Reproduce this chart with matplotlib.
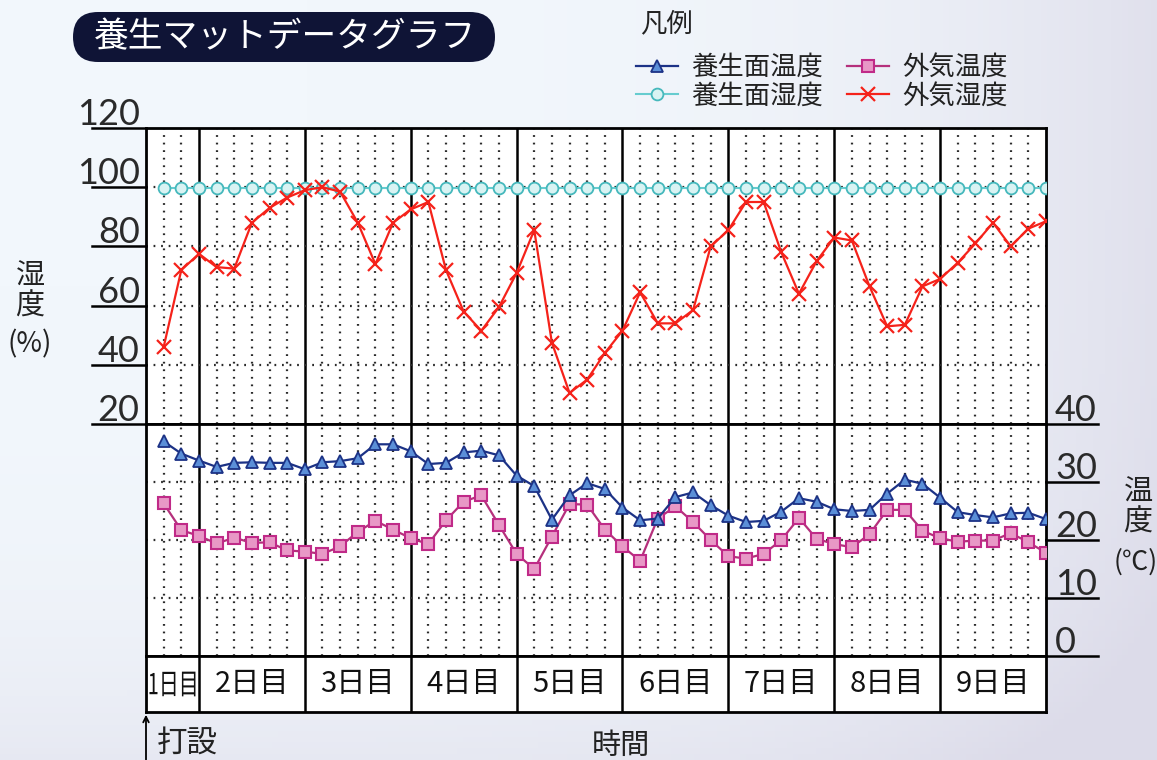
import matplotlib
matplotlib.use("Agg")
import matplotlib.pyplot as plt
import matplotlib.patches as mpatches
import matplotlib.transforms as mtransforms
from matplotlib.textpath import TextPath
from matplotlib.font_manager import FontProperties
import numpy as np

plt.rcParams['font.family'] = ['Noto Sans CJK JP', 'DejaVu Sans']

# readings every 4 hours; slot 0..51, day 1 is only half a day (3 slots)
slots = list(range(1, 52))
day_edges = [0, 3, 9, 15, 21, 27, 33, 39, 45, 51]
day_labels = ["1日目", "2日目", "3日目", "4日目", "5日目", "6日目", "7日目", "8日目", "9日目"]

# 外気湿度 (%)
outside_hum = [46, 72, 77.5, 73, 72.5, 88, 93, 96.5, 99, 100, 98.5, 88, 74, 88, 92.5, 95, 72,
               58, 51.5, 59.5, 71, 85.5, 47.5, 30.5, 35, 44, 51.5, 64.5, 54, 54, 58.5, 80, 85.5,
               95, 95, 78, 64, 75, 83, 82, 66.5, 53, 53.5, 66.5, 69, 74.5, 81, 88, 80, 86, 88.5]
# 養生面湿度 (%)
mat_hum = [99.7] * 51
# 養生面温度 (C)
mat_temp = [37.0, 34.9, 33.7, 32.6, 33.3, 33.4, 33.3, 33.3, 32.2, 33.4, 33.6, 34.1, 36.5, 36.5,
            35.3, 33.1, 33.3, 35.1, 35.4, 34.6, 31.1, 29.3, 23.5, 27.7, 29.8, 28.8, 25.6, 23.4,
            23.7, 27.4, 28.2, 26.0, 24.2, 23.1, 23.3, 24.9, 27.2, 26.6, 25.3, 25.0, 25.2, 28.0,
            30.4, 29.7, 27.3, 24.8, 24.3, 23.9, 24.6, 24.7, 23.6]
# 外気温度 (C)
outside_temp = [26.3, 21.7, 20.7, 19.4, 20.4, 19.5, 19.6, 18.2, 18.0, 17.6, 18.9, 21.4, 23.3,
                21.8, 20.3, 19.3, 23.4, 26.6, 27.7, 22.6, 17.6, 15.0, 20.6, 26.2, 26.1, 21.8,
                18.9, 16.4, 23.7, 25.8, 23.1, 20.0, 17.2, 16.8, 17.6, 20.0, 23.8, 20.2, 19.3,
                18.75, 21.0, 25.2, 25.2, 21.6, 20.3, 19.7, 19.9, 19.9, 21.2, 19.6, 17.8]

hum_ticks = [120, 100, 80, 60, 40, 20]
temp_ticks = [40, 30, 20, 10, 0]

DOT = (0, (0.8, 2.6))
NUM_FONT = dict(family=['Lato', 'DejaVu Sans'], fontweight='normal', fontsize=26, color='#2a2a2a')


def draw_grid(ax, hlines):
    "dotted grid at every reading, solid line at each day"
    minor = [s for s in range(1, 51) if s not in day_edges]
    ax.vlines(minor, 0, 1, transform=ax.get_xaxis_transform(), colors='#2a2a2a',
              linestyles=DOT, linewidth=1.6, zorder=1)
    ax.vlines(day_edges[1:-1], 0, 1, transform=ax.get_xaxis_transform(), colors='black',
              linewidth=1.8, zorder=1)
    ax.hlines(hlines, 0, 51, colors='#2a2a2a', linestyles=DOT, linewidth=1.6, zorder=1)
    ax.set_xlim(0, 51)
    ax.set_xticks([])
    ax.set_yticks([])
    for sp in ax.spines.values():
        sp.set_linewidth(2)
        sp.set_color('black')


def plot_mat_graph():
    fig = plt.figure(figsize=(11.57, 7.6), dpi=100)
    fig.patch.set_facecolor('#edf2f8')

    # soft background wash
    bg = fig.add_axes([0, 0, 1, 1], zorder=-5)
    gx = np.linspace(0, 1, 200)
    gy = np.linspace(0, 1, 130)
    GX, GY = np.meshgrid(gx, gy)
    wash = np.clip(0.8 * GX ** 4 + 0.5 * (GY) ** 5, 0, 1)
    bg.imshow(wash, cmap=matplotlib.colors.LinearSegmentedColormap.from_list(
        'w', ['#f2f7fc', '#dcdbe9']), aspect='auto', extent=[0, 1, 0, 1], origin='upper')
    bg.axis('off')

    left, width = 146 / 1157, 900 / 1157
    ax_h = fig.add_axes([left, 1 - 424 / 760, width, 296 / 760])
    ax_t = fig.add_axes([left, 1 - 656 / 760, width, 232 / 760])
    ax_d = fig.add_axes([left, 1 - 712 / 760, width, 56 / 760])

    # 1. humidity panel
    ax_h.set_ylim(20, 120)
    draw_grid(ax_h, [40, 60, 80, 100])
    ax_h.plot(slots, mat_hum, color='#66cccf', lw=1.5, marker='o', ms=8.5,
              mfc='#d9f3f3', mec='#45b8bc', mew=1.3, zorder=3, label='養生面湿度')
    ax_h.plot(slots, outside_hum, color='#f5221a', lw=1.6, marker='x', ms=10,
              mew=1.6, zorder=4, label='外気湿度')

    # 2. temperature panel
    ax_t.set_ylim(0, 40)
    draw_grid(ax_t, [10, 20, 30])
    ax_t.plot(slots, outside_temp, color='#b5307c', lw=1.6, marker='s', ms=8.5,
              mfc='#e898c6', mec='#c02a88', mew=1.5, zorder=3, label='外気温度')
    ax_t.plot(slots, mat_temp, color='#1c3286', lw=1.6, marker='^', ms=8.5,
              mfc='#5b8fd8', mec='#1c3286', mew=1.3, zorder=4, label='養生面温度')

    # 3. tick labels sitting on short rules
    lblend = mtransforms.blended_transform_factory(ax_h.transAxes, ax_h.transData)
    lup = mtransforms.offset_copy(lblend, fig=fig, y=3, units='dots')
    for v in hum_ticks:
        ax_h.plot([-0.06, 0], [v, v], transform=lblend, color='black', lw=1.8, clip_on=False)
        ax_h.text(-0.007, v, str(v), transform=lup, ha='right', va='baseline', **NUM_FONT)
    rblend = mtransforms.blended_transform_factory(ax_t.transAxes, ax_t.transData)
    rup = mtransforms.offset_copy(rblend, fig=fig, y=3, units='dots')
    for v in temp_ticks:
        ax_t.plot([1, 1.058], [v, v], transform=rblend, color='black', lw=1.8, clip_on=False)
        ax_t.text(1.01, v, str(v), transform=rup, ha='left', va='baseline', **NUM_FONT)

    fig.text(30 / 1157, 1 - 292 / 760, "湿\n度", ha='center', va='center',
             fontsize=21, linespacing=1.0, color='#222222')
    fig.text(30 / 1157, 1 - 344 / 760, "(%)", ha='center', va='center',
             fontsize=20, color='#222222')
    fig.text(1138 / 1157, 1 - 508 / 760, "温\n度", ha='center', va='center',
             fontsize=21, linespacing=1.0, color='#222222')
    fig.text(1136 / 1157, 1 - 562 / 760, "(℃)", ha='center', va='center',
             fontsize=19, color='#222222')

    # 4. day row
    ax_d.set_xlim(0, 51)
    ax_d.set_ylim(0, 1)
    ax_d.set_xticks([])
    ax_d.set_yticks([])
    ax_d.set_facecolor('white')
    for sp in ax_d.spines.values():
        sp.set_linewidth(2)
    ax_d.vlines(day_edges[1:-1], 0, 1, colors='black', lw=1.8)
    for k, name in enumerate(day_labels[1:], start=1):
        mid = (day_edges[k] + day_edges[k + 1]) / 2
        ax_d.text(mid, 0.5, name, ha='center', va='center', fontsize=21, color='#111111')
    # the first cell is narrow, so its label is squeezed sideways
    tp = TextPath((0, 0), day_labels[0], size=29, prop=FontProperties(family='Noto Sans CJK JP'))
    ext = tp.get_extents()
    cx, cy = ax_d.transData.transform((day_edges[1] / 2, 0.5))
    sx = 46 / ext.width
    squeeze = mtransforms.Affine2D().translate(-ext.x0 - ext.width / 2, -ext.y0 - ext.height / 2) \
        .scale(sx, 1.0).translate(cx, cy)
    ax_d.add_patch(mpatches.PathPatch(tp, transform=squeeze, fc='#111111', ec='none'))

    ax_d.annotate('', xy=(0, 0), xytext=(0, -0.9), xycoords='data',
                  arrowprops=dict(arrowstyle='->', lw=1.3, color='black'), annotation_clip=False)
    ax_d.text(0.6, -0.55, "打設", ha='left', va='center', fontsize=22, color='#222222',
              clip_on=False)
    ax_d.text(26.9, -0.6, "時間", ha='center', va='center', fontsize=21, color='#222222',
              clip_on=False)

    # 5. title pill
    pill = mpatches.FancyBboxPatch((0.73, 6.98), 4.22, 0.50,
                                   boxstyle="round,pad=0,rounding_size=0.25",
                                   transform=fig.dpi_scale_trans, fc='#0f1436', ec='none')
    fig.patches.append(pill)
    fig.text(285 / 1157, 1 - 38 / 760, "養生マットデータグラフ", ha='center', va='center',
             fontsize=25, color='white')

    # 6. legend (row 1: temperatures, row 2: humidities)
    fig.text(640 / 1157, 1 - 24 / 760, "凡例", ha='left', va='center', fontsize=19,
             color='#222222')
    hs = {l.get_label(): l for l in ax_h.get_lines() + ax_t.get_lines()
          if not l.get_label().startswith('_')}
    order = ['養生面温度', '養生面湿度', '外気温度', '外気湿度']
    leg = fig.legend([hs[k] for k in order], order, loc='upper left',
                     bbox_to_anchor=(636 / 1157, 1 - 54 / 760), ncol=2, frameon=False,
                     fontsize=19, handlelength=1.6, columnspacing=0.9, labelspacing=0.05,
                     handletextpad=0.5, borderaxespad=0, borderpad=0)
    for t in leg.get_texts():
        t.set_color('#222222')

    plt.savefig("out.png", dpi=100, facecolor=fig.get_facecolor())


if __name__ == '__main__':
    plot_mat_graph()
